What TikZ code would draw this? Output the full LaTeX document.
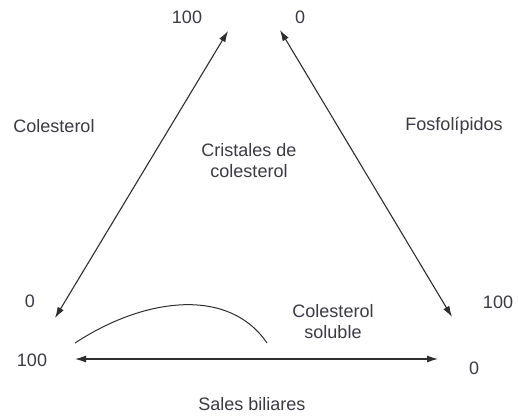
\documentclass[tikz,border=0pt]{standalone}
\usepackage{fontspec}
\setmainfont{Liberation Sans}
\usetikzlibrary{arrows.meta}
\definecolor{txt}{HTML}{3A3A42}
\definecolor{ln}{HTML}{2E2E2E}
\tikzset{
  lbl/.style={text=txt, font=\fontsize{18}{21}\selectfont, inner sep=0pt, align=center},
  axis/.style={draw=ln, line width=1.1pt, {Latex[length=11pt,width=7pt]}-{Latex[length=11pt,width=7pt]}},
  curveline/.style={draw=ln, line width=1pt}
}
\begin{document}
\begin{tikzpicture}[x=1pt,y=-1pt]
\useasboundingbox (0,0) rectangle (518,416);
% arrow end points
\coordinate (A) at (228,31);
\coordinate (B) at (55,318);
\coordinate (C) at (280,30);
\coordinate (D) at (452,317);
\coordinate (E) at (75,359);
\coordinate (F) at (438,359);
\coordinate (G) at (75,343);
\coordinate (H) at (267,343);
\draw[axis] (B) -- (A);
\draw[axis] (C) -- (D);
\draw[axis] (E) -- (F);
\draw[curveline] (G) .. controls (145,297) and (229,287) .. (H);
% labels
\node[lbl] (t100) at (187,17) {100};
\node[lbl] (t0) at (300,17) {0};
\node[lbl] (col) at (54,126) {Colesterol};
\node[lbl] (fos) at (454,126) {Fosfolípidos};
\node[lbl] (cri) at (249,161) {Cristales de\\colesterol};
\node[lbl] (l0) at (30,301) {0};
\node[lbl] (l100) at (32,360) {100};
\node[lbl] (sol) at (333,322) {Colesterol\\soluble};
\node[lbl] (r100) at (498,302) {100};
\node[lbl] (r0) at (474,368) {0};
\node[lbl] (sal) at (252,404) {Sales biliares};
\end{tikzpicture}
\end{document}
